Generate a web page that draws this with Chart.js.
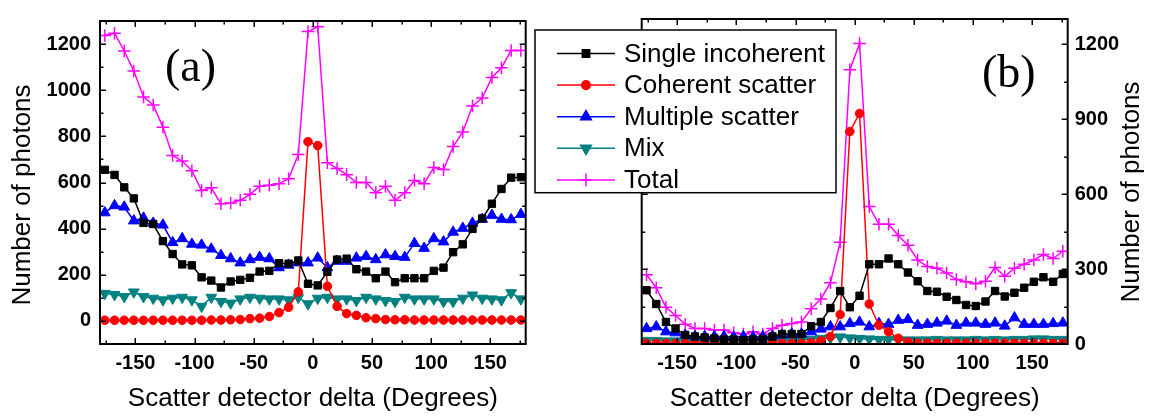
<!DOCTYPE html>
<html>
<head>
<meta charset="utf-8">
<title>Scatter detector delta</title>
<script src="https://cdn.jsdelivr.net/npm/chart.js@4.4.0/dist/chart.umd.min.js"></script>
<style>
  html, body { margin: 0; padding: 0; background: #fff; }
  #lienzo { position: relative; width: 1154px; height: 418px; overflow: hidden; background: #fff; }
  #lienzo canvas { position: absolute; top: 0; }
  #chart-a { left: 0; }
  #chart-b { left: 530px; }
</style>
</head>
<body>
<div id="lienzo">
  <canvas id="chart-a" width="534" height="418"></canvas>
  <canvas id="chart-b" width="624" height="418"></canvas>
</div>
<script>
/* Dos paneles (a) y (b): fotones por tipo de dispersión vs. ángulo del detector.
   El panel (b) lleva la leyenda y el eje Y a la derecha. */

// Centros de bin del detector (grados)
const DELTA = [
  -175.9, -167.7, -159.5, -151.4, -143.2, -135.0, -126.8, -118.6, -110.5, -102.3, -94.1,
  -85.9, -77.7, -69.5, -61.4, -53.2, -45.0, -36.8, -28.6, -20.5, -12.3, -4.1,
  4.1, 12.3, 20.5, 28.6, 36.8, 45.0, 53.2, 61.4, 69.5, 77.7, 85.9,
  94.1, 102.3, 110.5, 118.6, 126.8, 135.0, 143.2, 151.4, 159.5, 167.7, 175.9,
];

const SERIES = ['Single incoherent', 'Coherent scatter', 'Multiple scatter', 'Mix', 'Total'];

const X_TICKS = [-150, -100, -50, 0, 50, 100, 150];
const X_MINOR = [-175, -125, -75, -25, 25, 75, 125, 175];
const A_Y_TICKS = [0, 200, 400, 600, 800, 1000, 1200];
const A_Y_MINOR = [100, 300, 500, 700, 900, 1100];
const B_Y_TICKS = [0, 300, 600, 900, 1200];
const B_Y_MINOR = [150, 450, 750, 1050];

// ---- panel (a) ----
const A_SINGLE = [655, 633, 579, 531, 425, 420, 346, 290, 245, 241, 189, 175, 145, 171, 178, 187, 214, 217, 250, 248, 262, 161,
  154, 213, 266, 270, 224, 214, 185, 214, 168, 185, 185, 185, 217, 231, 298, 332, 399, 444, 508, 572, 621, 623];
const A_COHERENT = [3, 3, 3, 3, 3, 3, 3, 3, 3, 3, 3, 4, 4, 5, 6, 10, 12, 19, 36, 59, 126, 777,
  760, 150, 63, 32, 24, 14, 10, 6, 5, 5, 4, 4, 4, 4, 4, 4, 4, 4, 4, 4, 4, 4];
const A_MULTIPLE = [469, 500, 494, 434, 446, 424, 416, 340, 357, 333, 329, 312, 284, 270, 252, 266, 276, 270, 231, 242, 252, 252,
  273, 231, 259, 259, 273, 280, 266, 287, 280, 276, 336, 315, 357, 343, 385, 402, 424, 441, 458, 441, 439, 462];
const A_MIX = [119, 114, 105, 125, 105, 98, 91, 98, 102, 91, 63, 102, 84, 77, 95, 102, 98, 95, 95, 91, 102, 74,
  98, 102, 95, 95, 88, 102, 95, 88, 84, 102, 95, 95, 95, 84, 84, 98, 112, 98, 95, 91, 122, 95];
const A_TOTAL = [1237, 1247, 1170, 1083, 971, 936, 840, 717, 693, 651, 565, 577, 508, 511, 523, 549, 584, 588, 595, 616, 721, 1254,
  1275, 686, 661, 634, 600, 600, 556, 584, 523, 556, 609, 595, 665, 656, 756, 819, 932, 966, 1055, 1097, 1172, 1172];

// ---- panel (b) ----
const B_SINGLE = [215, 160, 88, 62, 36, 30, 26, 22, 18, 18, 16, 18, 20, 30, 40, 40, 40, 71, 88, 144, 212, 147,
  193, 319, 319, 342, 319, 286, 251, 212, 209, 189, 176, 156, 152, 170, 212, 190, 205, 225, 249, 267, 249, 280];
const B_COHERENT = [2, 2, 2, 2, 2, 2, 2, 2, 2, 2, 2, 2, 2, 2, 2, 2, 2, 5, 12, 30, 118, 850,
  922, 160, 75, 49, 23, 8, 3, 3, 3, 3, 3, 3, 3, 3, 3, 3, 3, 3, 3, 3, 3, 3];
const B_MULTIPLE = [62, 69, 49, 45, 35, 30, 30, 30, 30, 28, 30, 28, 30, 32, 36, 40, 40, 49, 60, 69, 69, 82,
  88, 69, 82, 79, 95, 98, 75, 79, 84, 92, 75, 84, 84, 79, 84, 72, 105, 79, 79, 79, 82, 84];
const B_MIX = [14, 14, 12, 12, 12, 10, 10, 10, 10, 10, 10, 10, 10, 12, 12, 14, 16, 18, 22, 25, 28, 24,
  22, 20, 18, 18, 16, 16, 16, 16, 18, 16, 16, 16, 18, 16, 18, 16, 18, 18, 20, 20, 18, 18];
const B_TOTAL = [277, 225, 147, 114, 79, 62, 62, 56, 56, 45, 40, 49, 40, 62, 75, 82, 88, 141, 180, 245, 407, 1097,
  1202, 550, 479, 479, 434, 395, 336, 310, 303, 284, 258, 249, 241, 251, 306, 271, 303, 319, 336, 358, 342, 371];

const COLOR = {
  single: '#000000',
  coherent: '#ff0000',
  multiple: '#0000ff',
  mix: '#008080',
  total: '#ff00ff',
};

// Marcador de cada serie (mismo orden que SERIES)
const MARCA = [
  { color: COLOR.single, estilo: 'rect', radio: 5.2, rot: 0 },
  { color: COLOR.coherent, estilo: 'circle', radio: 4.3, rot: 0 },
  { color: COLOR.multiple, estilo: 'triangle', radio: 6.2, rot: 0 },
  { color: COLOR.mix, estilo: 'triangle', radio: 6.2, rot: 180 },
  { color: COLOR.total, estilo: 'cross', radio: 6.3, rot: 0 },
];

const SANS = "'Liberation Sans', Arial, sans-serif";
const FUENTE_TICK = { family: SANS, size: 20, weight: 'bold' };
const FUENTE_TITULO = { family: SANS, size: 26 };
const TITULO_X = 'Scatter detector delta (Degrees)';
const TITULO_Y = 'Number of photons';

// Sin separador de miles: 1200, no 1,200
const sinMiles = (v) => String(v);

function puntos(vals) { return DELTA.map((x, i) => ({ x, y: vals[i] })); }

function armarDatasets(series) {
  return series.map((vals, i) => ({
    label: SERIES[i],
    data: puntos(vals),
    borderColor: MARCA[i].color,
    backgroundColor: MARCA[i].color,
    borderWidth: 1.5,
    pointStyle: MARCA[i].estilo,
    pointRadius: MARCA[i].radio,
    pointRotation: MARCA[i].rot,
    pointBackgroundColor: MARCA[i].color,
    pointBorderColor: MARCA[i].color,
    pointBorderWidth: MARCA[i].estilo === 'cross' ? 1.5 : 1,
    tension: 0,
    clip: 0,
  }));
}

function escalaX() {
  return {
    type: 'linear', min: -180, max: 180,
    afterBuildTicks: (s) => { s.ticks = X_TICKS.map((v) => ({ value: v })); },
    afterFit: (s) => { s.height = 74; },
    grid: { display: false, drawTicks: false },
    border: { display: false },
    ticks: { font: FUENTE_TICK, color: '#000', padding: 7, maxRotation: 0, autoSkip: false, callback: sinMiles },
    title: { display: true, text: TITULO_X, font: FUENTE_TITULO, color: '#000', padding: { top: 0, bottom: 4 } },
  };
}

function escalaY(pos, min, max, ticks, ancho, pad) {
  return {
    type: 'linear', position: pos, min, max,
    afterBuildTicks: (s) => { s.ticks = ticks.map((v) => ({ value: v })); },
    afterFit: (s) => { s.width = ancho; },
    grid: { display: false, drawTicks: false },
    border: { display: false },
    ticks: { font: FUENTE_TICK, color: '#000', padding: pad, autoSkip: false, callback: sinMiles },
  };
}

// Marco, marcas hacia adentro en los cuatro lados, título Y, rótulo del panel y leyenda
function decor(cfg) {
  return {
    id: 'decor',
    afterDatasetsDraw(chart) {
      const { ctx, chartArea: a } = chart;
      const sx = chart.scales.x, sy = chart.scales.y;
      ctx.save();
      ctx.strokeStyle = '#000';
      ctx.lineWidth = 1.5;
      ctx.beginPath();
      const marcasX = (vals, len) => vals.forEach((v) => {
        const px = Math.round(sx.getPixelForValue(v)) + 0.25;
        ctx.moveTo(px, a.bottom); ctx.lineTo(px, a.bottom - len);
        ctx.moveTo(px, a.top); ctx.lineTo(px, a.top + len);
      });
      const marcasY = (vals, len) => vals.forEach((v) => {
        const py = Math.round(sy.getPixelForValue(v)) + 0.25;
        ctx.moveTo(a.left, py); ctx.lineTo(a.left + len, py);
        ctx.moveTo(a.right, py); ctx.lineTo(a.right - len, py);
      });
      marcasX(X_TICKS, 6);
      marcasX(X_MINOR, 3.5);
      marcasY(cfg.yTicks, 6);
      marcasY(cfg.yMinor, 3.5);
      ctx.stroke();
      ctx.lineWidth = 2;
      ctx.strokeRect(a.left, a.top, a.right - a.left, a.bottom - a.top);
      ctx.restore();
    },
    afterDraw(chart) {
      const ctx = chart.ctx;
      ctx.save();
      ctx.fillStyle = '#000';

      // título del eje Y, rotado
      ctx.save();
      ctx.translate(cfg.tituloY.x, cfg.tituloY.y);
      ctx.rotate(-Math.PI / 2);
      ctx.font = `26px ${SANS}`;
      ctx.textAlign = 'center';
      ctx.textBaseline = 'middle';
      ctx.fillText(TITULO_Y, 0, 0);
      ctx.restore();

      // rótulo (a)/(b)
      ctx.font = "46px 'Liberation Serif', 'Times New Roman', serif";
      ctx.textAlign = 'left';
      ctx.textBaseline = 'alphabetic';
      ctx.fillText(cfg.rotulo.text, cfg.rotulo.x, cfg.rotulo.y);

      if (cfg.leyenda) {
        const L = cfg.leyenda;
        ctx.fillStyle = '#fff';
        ctx.fillRect(L.x, L.y, L.w, L.h);
        ctx.strokeStyle = '#000';
        ctx.lineWidth = 1.5;
        ctx.strokeRect(L.x, L.y, L.w, L.h);
        chart.data.datasets.forEach((ds, i) => {
          const y = L.fila0 + L.paso * i;
          ctx.strokeStyle = ds.borderColor;
          ctx.fillStyle = ds.backgroundColor;
          ctx.lineWidth = 1.5;
          ctx.beginPath();
          ctx.moveTo(L.x + 22, y);
          ctx.lineTo(L.x + 80, y);
          ctx.stroke();
          Chart.helpers.drawPoint(ctx, {
            pointStyle: ds.pointStyle,
            rotation: ds.pointRotation,
            radius: ds.pointRadius,
            borderWidth: ds.pointBorderWidth,
          }, L.x + 51, y);
          ctx.fillStyle = '#000';
          ctx.font = `26px ${SANS}`;
          ctx.textAlign = 'left';
          ctx.textBaseline = 'middle';
          ctx.fillText(ds.label, L.x + 89, y + 1);
        });
      }
      ctx.restore();
    },
  };
}

function opciones(padding, escalas) {
  return {
    responsive: false,
    animation: false,
    devicePixelRatio: 1,
    layout: { padding },
    scales: escalas,
    plugins: { legend: { display: false }, tooltip: { enabled: false } },
    events: [],
  };
}

// Panel (a): eje Y a la izquierda, -100..1300
new Chart(document.getElementById('chart-a'), {
  type: 'line',
  data: { datasets: armarDatasets([A_SINGLE, A_COHERENT, A_MULTIPLE, A_MIX, A_TOTAL]) },
  options: opciones({ left: 0, right: 8.3, top: 12.5, bottom: 0 }, {
    x: escalaX(),
    y: escalaY('left', -100, 1300, A_Y_TICKS, 100, 9),
  }),
  plugins: [decor({
    yTicks: A_Y_TICKS, yMinor: A_Y_MINOR,
    tituloY: { x: 22.5, y: 195 },
    rotulo: { text: '(a)', x: 165, y: 81 },
  })],
});

// Panel (b): eje Y a la derecha, 0..1300, con la leyenda encima
new Chart(document.getElementById('chart-b'), {
  type: 'line',
  data: { datasets: armarDatasets([B_SINGLE, B_COHERENT, B_MULTIPLE, B_MIX, B_TOTAL]) },
  options: opciones({ left: 111.7, right: 0, top: 12.7, bottom: 0 }, {
    x: escalaX(),
    y: escalaY('right', 0, 1300, B_Y_TICKS, 86.3, 7),
  }),
  plugins: [decor({
    yTicks: B_Y_TICKS, yMinor: B_Y_MINOR,
    tituloY: { x: 602, y: 192 },
    rotulo: { text: '(b)', x: 452, y: 87 },
    leyenda: { x: 5, y: 30, w: 301, h: 162.7, fila0: 53.5, paso: 31.6 },
  })],
});
</script>
</body>
</html>
